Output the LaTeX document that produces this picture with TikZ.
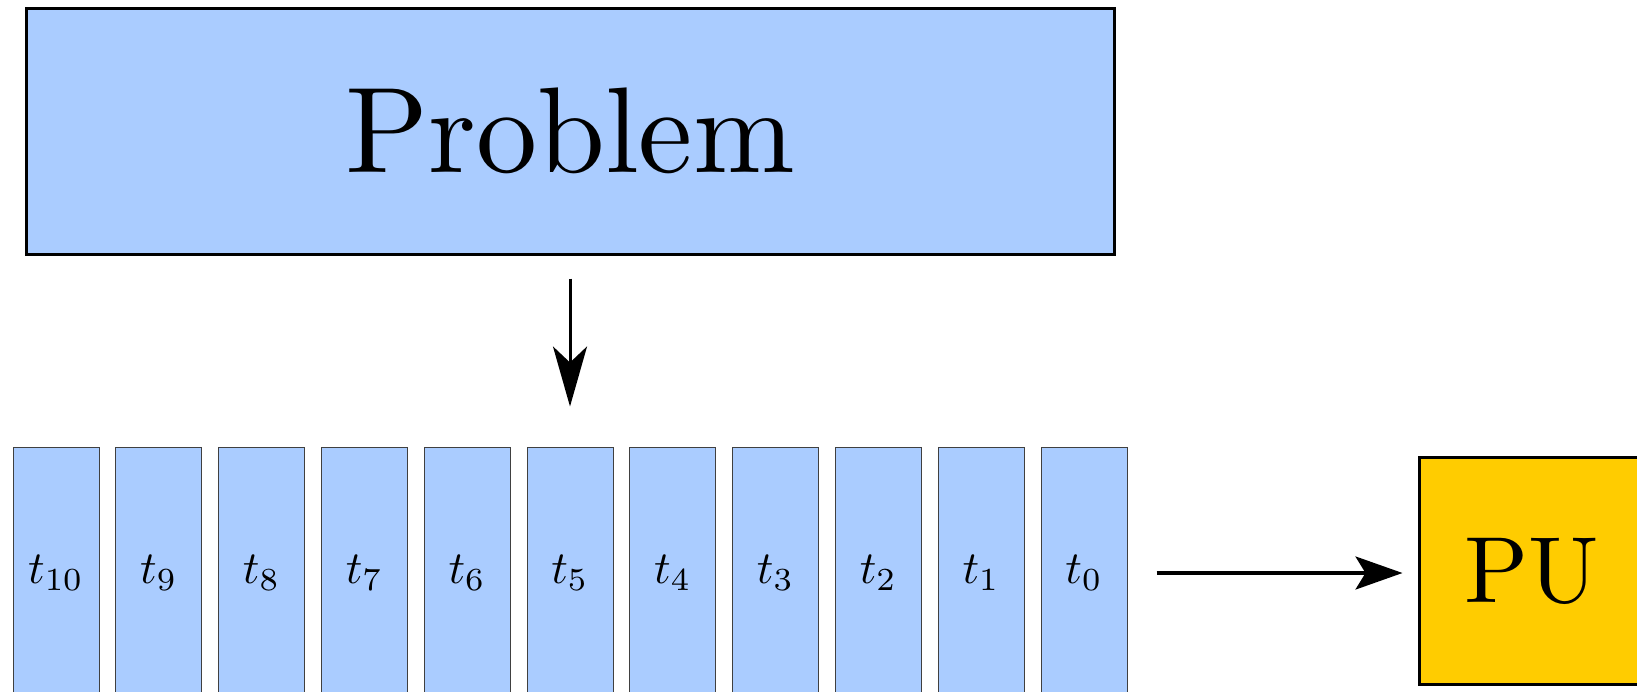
\documentclass[tikz,border=0pt]{standalone}
\usepackage{graphicx}
\usetikzlibrary{arrows.meta}
\definecolor{tileblue}{RGB}{170,204,255}
\definecolor{puyellow}{RGB}{255,204,0}
\tikzset{
  bigbox/.style={draw=black, line width=3pt, fill=tileblue, minimum width=1088pt, minimum height=246pt, inner sep=0pt},
  tilebox/.style={draw=black!75, line width=1pt, fill=tileblue, minimum width=86pt, minimum height=252pt, inner sep=0pt},
  pubox/.style={draw=black, line width=3pt, fill=puyellow, minimum width=226pt, minimum height=227pt, inner sep=0pt},
  downarrow/.style={line width=3pt, -{Stealth[length=60pt, width=34pt, inset=16pt]}},
  rightarrow/.style={line width=3.5pt, -{Stealth[length=47pt, width=33pt, inset=10pt]}}
}
\begin{document}
\begin{tikzpicture}[x=1pt, y=-1pt]
\clip (0,0) rectangle (1637,691);
\fill[white] (0,0) rectangle (1637,691);
\node[bigbox] (prob) at (570,131) {\scalebox{12.2}{Problem}};
\foreach \i in {0,...,10} {
  \pgfmathsetmacro{\xx}{56+(10-\i)*102.8}
  \node[tilebox] (t\i) at (\xx,573) {\scalebox{4.6}{$t_{\i}$}};
}
\node[pubox] (pu) at (1532,571) {\scalebox{9.4}{PU}};
\draw[downarrow, shorten <=23pt, shorten >=40pt] (prob.south) -- (t5.north);
\draw[rightarrow, shorten <=29pt, shorten >=15pt] (t0.east) -- (t0.east -| pu.west);
\end{tikzpicture}
\end{document}
